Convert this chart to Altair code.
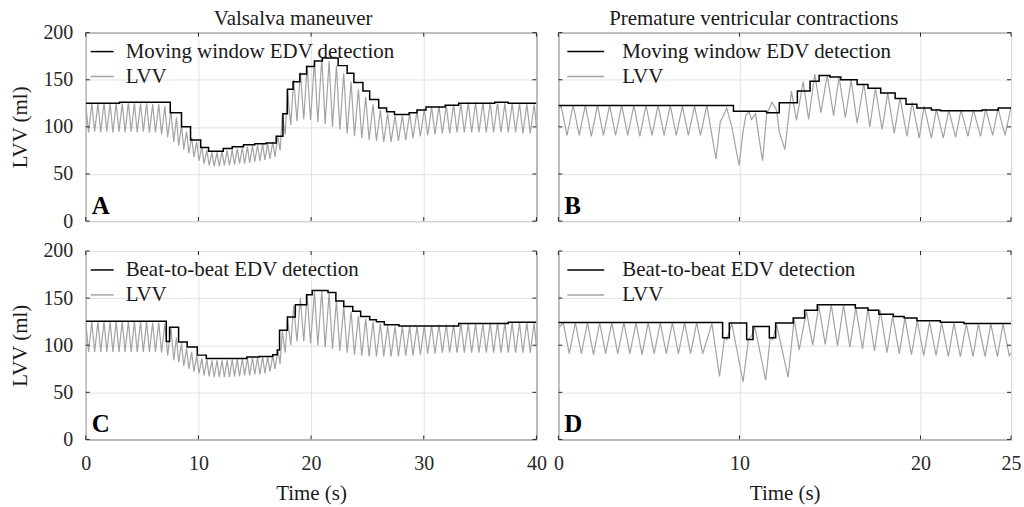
import altair as alt
import pandas as pd

FONT = "Liberation Serif"

# ---------------- Panel A: Valsalva, moving window EDV ----------------
A_lvv_t = [0.00,0.25, 0.54,0.79, 1.08,1.33, 1.62,1.87, 2.16,2.41, 2.70,2.95, 3.24,3.49, 3.78,4.03,
           4.32,4.57, 4.86,5.11, 5.40,5.65, 5.94,6.19, 6.48,6.73, 7.02,7.27, 7.56,7.81,
           8.05,8.25, 8.50,8.70, 8.95,9.15, 9.40,9.60, 9.85,10.05, 10.30,10.50, 10.75,10.95,
           11.20,11.40, 11.65,11.85, 12.10,12.30, 12.55,12.75, 13.00,13.20, 13.45,13.65,
           13.90,14.10, 14.35,14.55, 14.80,15.00, 15.25,15.45, 15.70,15.90, 16.15,16.35, 16.60,16.80,
           17.05,17.25, 17.45,17.70, 17.90,18.20, 18.45,18.75, 19.05,19.35, 19.65,19.95,
           20.30,20.60, 20.95,21.25, 21.60,21.90, 22.25,22.55, 22.90,23.20, 23.55,23.85,
           24.20,24.50, 24.85,25.15, 25.50,25.80, 26.15,26.45, 26.80,27.10, 27.45,27.75,
           28.10,28.40, 28.75,29.05, 29.40,29.70, 30.05,30.35, 30.70,31.00, 31.35,31.65,
           32.00,32.30, 32.65,32.95, 33.30,33.60, 33.95,34.25, 34.60,34.90, 35.25,35.55,
           35.90,36.20, 36.55,36.85, 37.20,37.50, 37.85,38.15, 38.50,38.80, 39.15,39.45, 39.80,40.00]
A_lvv_v = [124,94, 125,95, 125,94, 126,95, 125,94, 125,95, 125,94, 126,95,
           125,94, 125,95, 125,94, 124,94, 124,92, 122,89, 117,84,
           110,80, 102,76, 95,72, 89,68, 84,64, 79,61, 75,59,
           73,58, 73,58, 74,59, 75,59, 76,60, 77,61,
           78,61, 79,62, 80,63, 81,64, 82,65, 82,66, 84,68,
           90,75, 113,92, 139,102, 150,106, 158,108, 165,107,
           170,105, 173,103, 170,100, 165,97, 157,93, 148,90,
           140,88, 132,86, 124,85, 118,84, 114,84, 112,85,
           112,86, 114,88, 117,90, 119,91, 121,92, 122,93,
           123,93, 124,94, 125,94, 126,94, 126,94, 126,94,
           126,94, 126,94, 125,94, 125,94, 125,93, 124,93, 124,100]
A_edv_t = [0, 3.0, 7.5, 8.5, 9.3, 10.2, 10.9, 12.2, 13.0, 14.0, 15.0, 16.0, 16.9, 17.5, 17.9,
           18.4, 19.0, 19.6, 20.3, 21.0, 22.4, 23.2, 23.8, 24.6, 25.2, 26.0, 26.7, 27.4, 28.7,
           29.4, 30.2, 31.9, 33.1, 36.3, 37.5, 40]
A_edv_v = [125, 126, 115, 100, 86, 78, 74, 77, 79, 81, 82, 83, 90, 114, 140,
           148, 156, 164, 170, 173, 165, 157, 147, 138, 129, 120, 116, 113, 115,
           118, 121, 123, 125, 126, 125, 125]

# ---------------- Panel B: PVCs, moving window EDV ----------------
B_lvv_t = [0.00, 0.15,0.48, 0.82,1.15, 1.49,1.82, 2.16,2.49, 2.83,3.16, 3.50,3.83, 4.17,4.50,
           4.84,5.17, 5.51,5.84, 6.18,6.51, 6.85,7.18, 7.52,7.85,
           8.20,8.70, 8.94,9.12,9.30,9.58,9.98, 10.20,10.35,10.53,10.67,10.89,11.07,11.28,
           11.50,11.80,12.05,12.20,12.51, 12.87,13.15, 13.52,13.82, 14.16,14.50, 14.85,15.20,
           15.50,15.85, 16.17,16.50, 16.87,17.20, 17.51,17.88, 18.19,18.55, 18.87,19.25,
           19.54,19.93, 20.20,20.60, 20.88,21.26, 21.56,21.94, 22.24,22.62, 22.92,23.32,
           23.60,23.99, 24.28,24.67, 25.00]
B_lvv_v = [119, 122,91, 123,91, 123,90, 123,91, 123,91, 123,91, 123,90,
           123,91, 123,91, 123,91, 122,91, 122,91,
           123,66, 105,112,120,100,59, 95,112,116,108,114,90,64,
           113,126,118,95,76, 138,107, 148,108, 156,115, 155,112,
           153,110, 150,104, 146,100, 141,97, 136,93, 131,90,
           126,88, 122,88, 119,88, 118,89, 118,90, 118,90,
           119,91, 120,91, 121]
B_edv_t = [0, 9.67, 11.5, 12.2, 13.2, 13.9, 14.4, 15.0, 15.6, 16.5, 17.1, 17.8, 18.6, 19.2,
           19.8, 20.6, 21.1, 23.4, 24.3, 25]
B_edv_v = [122.7, 116.7, 115, 125.6, 138, 148.5, 154.5, 153, 150, 145, 141, 136, 130, 124,
           120, 118, 117, 118, 120, 120]

# ---------------- Panel C: Valsalva, beat-to-beat EDV ----------------
C_lvv_t = A_lvv_t
C_lvv_v = [125,93, 125,93, 125,93, 125,93, 125,93, 125,93, 125,93, 125,93,
           125,93, 125,93, 125,93, 124,93, 124,92, 123,89, 119,84,
           108,82, 102,78, 97,75, 93,72, 89,70, 86,68, 85,67,
           84,66, 84,66, 84,66, 84,66, 85,67, 85,67,
           86,68, 86,68, 87,69, 87,69, 88,70, 88,72, 89,75,
           95,80, 115,92, 129,100, 142,104, 150,104, 154,102,
           157,100, 158,98, 155,96, 147,94, 141,92, 136,90,
           131,89, 128,88, 125,88, 123,88, 121,88, 120,88,
           120,89, 120,89, 120,90, 121,91, 121,91, 122,92,
           122,92, 122,92, 123,92, 123,92, 123,92, 123,92,
           124,92, 124,92, 124,92, 124,92, 124,92, 124,92, 124,98]
C_edv_t = [0, 7.15, 7.44, 8.24, 9.0, 9.9, 10.7, 14.3, 15.4, 16.6, 17.0, 17.2, 17.9, 18.6, 19.6,
           20.1, 21.5, 22.2, 22.9, 23.7, 24.4, 25.2, 25.8, 26.5, 27.8, 33.1, 37.5, 40]
C_edv_v = [125.5, 104, 119, 103.5, 98, 89.5, 86, 87.5, 88, 90, 95, 116, 130, 143, 153.7,
           158, 156, 147, 141, 136, 130.5, 127, 125, 121.8, 120.5, 123, 124.5, 124.5]

# ---------------- Panel D: PVCs, beat-to-beat EDV ----------------
D_lvv_t = [0.00, 0.27,0.60, 0.94,1.27, 1.61,1.94, 2.28,2.61, 2.95,3.28, 3.62,3.95, 4.29,4.62,
           4.96,5.29, 5.63,5.96, 6.30,6.63, 6.97,7.30, 7.64,7.97,
           8.48,8.90, 9.18,9.30,9.58,10.20, 10.50,10.68,10.86,11.45, 11.70,11.85,12.05,12.69,
           13.02,13.30, 13.70,14.05, 14.38,14.74, 15.07,15.42, 15.75,16.10, 16.43,16.80,
           17.10,17.46, 17.78,18.15, 18.46,18.83, 19.14,19.50, 19.82,20.18, 20.50,20.86,
           21.17,21.54, 21.85,22.20, 22.53,22.90, 23.20,23.57, 23.88,24.25, 24.56,24.90, 25.00]
D_lvv_v = [118, 124,91, 124,91, 124,90, 124,91, 124,91, 124,91, 124,90,
           124,91, 124,91, 124,91, 124,91, 124,91,
           123,67, 108,106,123,61, 106,110,119,63, 108,106,122,66,
           128,95, 136,100, 142,101, 143,99, 143,98, 140,96,
           139,94, 137,92, 131,91, 129,90, 126,89, 125,89,
           124,88, 123.5,88, 123,88, 123,88, 123,88, 123,89, 92]
D_edv_t = [0, 9.07, 9.44, 10.4, 10.75, 11.65, 12.0, 12.97, 13.6, 14.3, 16.4, 17.1, 17.7, 18.5,
           19.1, 19.8, 21.1, 22.4, 25]
D_edv_v = [124, 108, 123.5, 106, 120, 108, 123.5, 129, 137, 143, 139.5, 137, 133, 130.5,
           129, 126, 124.5, 123, 123]

Y_TICKS = [0, 50, 100, 150, 200]
LEFT_TICKS = [0, 10, 20, 30, 40]
RIGHT_TICKS = [0, 10, 20, 25]
LVV_LABEL = "LVV"

for a, b in [(A_lvv_t, A_lvv_v), (B_lvv_t, B_lvv_v), (C_lvv_t, C_lvv_v), (D_lvv_t, D_lvv_v),
             (A_edv_t, A_edv_v), (B_edv_t, B_edv_v), (C_edv_t, C_edv_v), (D_edv_t, D_edv_v)]:
    assert len(a) == len(b), (len(a), len(b))

H = 189
BLACK = "#000000"
GRAY = "#a3a3a3"
AXC = "#262626"
TICK = 4
ONE = pd.DataFrame({"k": [0]})


def legend_layers(edv_label, sx1, sx2, tx):
    out = []
    for lab, col, py in [(edv_label, BLACK, 19), (LVV_LABEL, GRAY, 44)]:
        out.append(alt.Chart(ONE).mark_rule(color=col, strokeWidth=1.5).encode(
            x=alt.value(sx1), x2=alt.value(sx2), y=alt.value(py)))
        out.append(alt.Chart(ONE).mark_text(
            text=lab, font=FONT, fontSize=21, align="left", baseline="middle",
            color="#1a1a1a").encode(x=alt.value(tx), y=alt.value(py)))
    return out


def panel(lvv_t, lvv_v, edv_t, edv_v, edv_label, xmax, xticks, letter, width,
          show_x, show_y, sx1, sx2, tx, title=None, title_dx=0):
    lvv = pd.DataFrame({"t": lvv_t, "v": lvv_v})
    edv = pd.DataFrame({"t": edv_t, "v": edv_v})
    xscale = alt.Scale(domain=[0, xmax], nice=False, zero=False)
    yscale = alt.Scale(domain=[0, 200], nice=False)
    xaxis = alt.Axis(values=xticks, labels=show_x, labelFlush=False, labelOverlap=False,
                     title="Time (s)" if show_x else None, format="d", minExtent=0)
    yaxis = alt.Axis(values=Y_TICKS, labels=show_y,
                     title="LVV (ml)" if show_y else None, minExtent=0)
    x = alt.X("t:Q", scale=xscale, axis=xaxis)
    y = alt.Y("v:Q", scale=yscale, axis=yaxis)
    gray = alt.Chart(lvv).mark_line(strokeWidth=1.2, clip=True, color=GRAY).encode(x=x, y=y)
    black = alt.Chart(edv).mark_line(interpolate="step-after", strokeWidth=1.5,
                                     clip=True, color=BLACK).encode(x=x, y=y)
    # inward box ticks (MATLAB style) at the tick values
    xt = pd.DataFrame({"t": xticks})
    yt = pd.DataFrame({"v": Y_TICKS})
    tick_layers = [
        alt.Chart(xt).mark_rule(color=AXC, strokeWidth=1).encode(
            x=x, y=alt.value(H), y2=alt.value(H - TICK)),
        alt.Chart(xt).mark_rule(color=AXC, strokeWidth=1).encode(
            x=x, y=alt.value(0), y2=alt.value(TICK)),
        alt.Chart(yt).mark_rule(color=AXC, strokeWidth=1).encode(
            y=y, x=alt.value(0), x2=alt.value(TICK)),
        alt.Chart(yt).mark_rule(color=AXC, strokeWidth=1).encode(
            y=y, x=alt.value(width - TICK), x2=alt.value(width)),
    ]
    lab = alt.Chart(ONE).mark_text(
        text=letter, font=FONT, fontSize=25, fontWeight="bold", align="left",
        baseline="alphabetic", color="#000000").encode(x=alt.value(6), y=alt.value(H - 7))
    layers = [gray, black, *tick_layers, lab, *legend_layers(edv_label, sx1, sx2, tx)]
    if title:
        layers.append(alt.Chart(ONE).mark_text(
            text=title, font=FONT, fontSize=21, align="center", baseline="alphabetic",
            color="#1a1a1a").encode(x=alt.value(width / 2 + title_dx), y=alt.value(-8)))
    return alt.layer(*layers).properties(width=width, height=H)


pA = panel(A_lvv_t, A_lvv_v, A_edv_t, A_edv_v, "Moving window EDV detection", 40, LEFT_TICKS, "A",
           452, False, True, 5, 28, 40, "Valsalva maneuver", -18)
pB = panel(B_lvv_t, B_lvv_v, B_edv_t, B_edv_v, "Moving window EDV detection", 25, RIGHT_TICKS, "B",
           454, False, False, 9, 46, 64, "Premature ventricular contractions", -31)
pC = panel(C_lvv_t, C_lvv_v, C_edv_t, C_edv_v, "Beat-to-beat EDV detection", 40, LEFT_TICKS, "C",
           452, True, True, 5, 28, 40)
pD = panel(D_lvv_t, D_lvv_v, D_edv_t, D_edv_v, "Beat-to-beat EDV detection", 25, RIGHT_TICKS, "D",
           454, True, False, 9, 46, 64)

top = alt.hconcat(pA, pB, spacing=22, bounds="flush")
bottom = alt.hconcat(pC, pD, spacing=22, bounds="flush")

chart = alt.vconcat(top, bottom, spacing=8).properties(
    padding={"left": 9, "top": 6, "right": 2, "bottom": 2}
).configure(font=FONT).configure_title(font=FONT, fontWeight="normal").configure_view(
    stroke=AXC, strokeWidth=1
).configure_axis(
    labelFont=FONT, labelFontSize=20, labelColor="#262626",
    titleFont=FONT, titleFontSize=21, titleFontWeight="normal", titleColor="#1a1a1a",
    grid=True, gridColor="#e2e2e2", gridWidth=1, ticks=False, domain=False,
).configure_axisY(labelPadding=13, titlePadding=12).configure_axisX(
    labelPadding=14, titlePadding=9
)

chart.save("out.html", embed_options={"renderer": "svg", "actions": False})
